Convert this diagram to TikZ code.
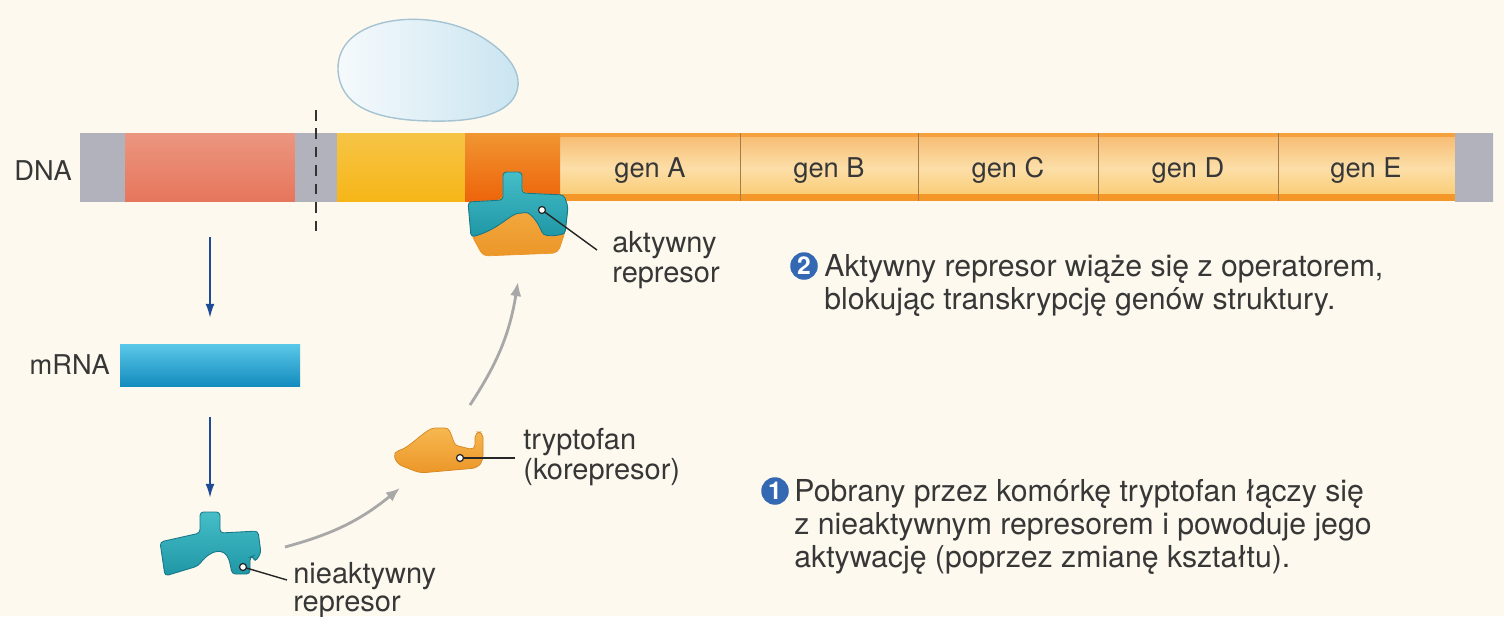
\documentclass[tikz,border=0pt]{standalone}
\usepackage{fontspec}
\setmainfont{TeX Gyre Heros}
\usetikzlibrary{arrows.meta}

\definecolor{paper}{RGB}{253,249,238}
\definecolor{ink}{RGB}{55,55,55}
\definecolor{capA}{RGB}{178,178,188}
\definecolor{capB}{RGB}{218,218,224}
\definecolor{redA}{RGB}{236,150,128}
\definecolor{redB}{RGB}{242,176,154}
\definecolor{redC}{RGB}{230,118,92}
\definecolor{yelA}{RGB}{246,196,70}
\definecolor{yelB}{RGB}{252,218,110}
\definecolor{yelC}{RGB}{246,182,24}
\definecolor{opA}{RGB}{240,150,50}
\definecolor{opB}{RGB}{242,140,30}
\definecolor{opC}{RGB}{238,100,10}
\definecolor{genA}{RGB}{246,186,110}
\definecolor{genB}{RGB}{252,222,168}
\definecolor{genC}{RGB}{250,206,120}
\definecolor{genline}{RGB}{244,150,40}
\definecolor{rnaA}{RGB}{90,200,232}
\definecolor{rnaB}{RGB}{30,168,210}
\definecolor{rnaC}{RGB}{20,140,190}
\definecolor{tealA}{RGB}{70,190,200}
\definecolor{tealB}{RGB}{30,150,165}
\definecolor{tealE}{RGB}{25,120,135}
\definecolor{trpA}{RGB}{246,184,80}
\definecolor{trpB}{RGB}{236,150,40}
\definecolor{eggA}{RGB}{246,250,252}
\definecolor{eggB}{RGB}{200,228,240}
\definecolor{eggE}{RGB}{165,195,210}
\definecolor{arrblue}{RGB}{30,75,150}
\definecolor{arrgray}{RGB}{168,168,168}
\definecolor{badgeblue}{RGB}{52,104,178}

\tikzset{
  lbl/.style={font=\fontsize{15.5}{18.5}\selectfont, text=ink, inner sep=0pt, align=left},
  sidelbl/.style={lbl, font=\fontsize{16.5}{17}\selectfont},
  longlbl/.style={lbl, font=\fontsize{17.2}{18.8}\selectfont},
  badge/.style={circle, fill=badgeblue, text=white, inner sep=0pt, minimum size=0.55cm,
    font=\bfseries\fontsize{14}{14}\selectfont},
  bluearr/.style={draw=arrblue, line width=1.1pt, -{Latex[length=8pt,width=5pt]}},
  grayarr/.style={draw=arrgray, line width=1.6pt, -{Latex[length=8pt,width=6.5pt]}},
  ptr/.style={draw=black!85, line width=0.8pt},
  ptrdot/.style={draw=black!85, fill=white, line width=0.7pt},
  seg/.style={draw=none},
}

\begin{document}
\begin{tikzpicture}[x=0.02cm,y=-0.02cm]
\fill[paper] (0,0) rectangle (1504,616);
\useasboundingbox (0,0) rectangle (1504,616);

% RNA polymerase
\shadedraw[left color=eggA, right color=eggB, draw=eggE, line width=0.8pt]
  (338,70) .. controls (336,16) and (428,6) .. (480,36)
  .. controls (514,56) and (526,80) .. (513,99)
  .. controls (500,117) and (466,122) .. (430,121)
  .. controls (370,120) and (340,104) .. (338,70);

% DNA strand
\shade[seg, top color=capA, middle color=capB, bottom color=capA] (80,133) rectangle (125,201);
\shade[seg, top color=redA, middle color=redB, bottom color=redC] (125,133) rectangle (295,201);
\shade[seg, top color=capA, middle color=capB, bottom color=capA] (295,133) rectangle (337,201);
\shade[seg, top color=yelA, middle color=yelB, bottom color=yelC] (337,133) rectangle (465,201);
\shade[seg, top color=genA, bottom color=genB] (560,133) rectangle (1455,168);
\shade[seg, top color=genB, bottom color=genC] (560,168) rectangle (1455,194);
\fill[genline] (560,194) rectangle (1455,201);
\fill[genline!70!genA] (560,133) rectangle (1455,137);
\foreach \x in {740,918,1098,1278}
  \draw[genline!60!black!80, line width=0.5pt] (\x,133) -- (\x,201);
\shade[seg, top color=opA, middle color=opB, bottom color=opC] (465,133) rectangle (560,201);
\shade[seg, top color=capA, middle color=capB, bottom color=capA] (1455,133) rectangle (1493,201);

\draw[black!80, line width=1.2pt, dash pattern=on 6pt off 4.5pt] (316,110) -- (316,232);

\node[lbl, anchor=base east] (dna) at (72,180) {DNA};
\foreach \g/\x in {A/650,B/829,C/1008,D/1188,E/1366}
  \node[lbl, anchor=base] (gen\g) at (\x,177) {gen \g};

% active repressor sitting on the operator
\shadedraw[top color=trpA, bottom color=trpB, draw=trpB, line width=0.4pt, rounded corners=3pt]
  (503,172) -- (522,172) -- (522,193) -- (564,195) -- (568,207) -- (565,232)
  -- (558,253) -- (483,256) -- (472,236) -- (468,202) -- (503,200) -- cycle;
\shadedraw[top color=tealA, bottom color=tealB, draw=tealE, line width=0.5pt, rounded corners=2pt]
  (503,172) -- (522,172) -- (522,193) -- (564,195) -- (568,207) -- (565,234)
  -- (552,236) -- (543,235) .. controls (538,222) and (530,212) .. (522,213)
  .. controls (510,214) and (498,230) .. (471,237) -- (468,202) -- (503,200) -- cycle;
\coordinate (actdot) at (542,210);
\coordinate (actend) at (597,250);
\draw[ptr] (actdot) -- (actend);
\draw[ptrdot] (actdot) circle (3.5);
\node[sidelbl, anchor=north west] (aktywny) at (612,231) {aktywny\\represor};

% mRNA
\shade[seg, top color=rnaA, middle color=rnaB, bottom color=rnaC] (120,344) rectangle (300,386);
\node[lbl, anchor=base east] (mrna) at (110,374) {mRNA};

% inactive repressor
\shadedraw[top color=tealA, bottom color=tealB, draw=tealE, line width=0.5pt, rounded corners=2pt]
  (200,512) -- (220,512) -- (220,533) -- (258,531) -- (261,553) -- (255,562)
  -- (253,556) -- (250,557) -- (250,574) -- (232,574) -- (230,563)
  .. controls (225,548) and (212,548) .. (198,566) -- (165,576) -- (160,542)
  -- (200,533) -- cycle;
\coordinate (inadot) at (243,567);
\coordinate (inaend) at (287,580);
\draw[ptr] (inadot) -- (inaend);
\draw[ptrdot] (inadot) circle (3.5);
\node[sidelbl, anchor=north west, font=\fontsize{16.5}{16}\selectfont] (nieaktywny) at (293,562) {nieaktywny\\represor};

% tryptophan
\shadedraw[top color=trpA, bottom color=trpB, draw=trpB!90!black, line width=0.4pt, rounded corners=3pt]
  (393,452) .. controls (410,448) and (426,428) .. (440,428)
  .. controls (452,428) and (452,444) .. (462,447) -- (475,450) -- (475,432)
  -- (483,432) -- (483,461) -- (477,468) -- (420,473) -- (397,464) -- cycle;
\coordinate (trpdot) at (460,458);
\coordinate (trpend) at (515,458);
\draw[ptr] (trpdot) -- (trpend);
\draw[ptrdot] (trpdot) circle (3.5);
\node[sidelbl, anchor=north west] (tryptofan) at (523,428) {tryptofan\\(korepresor)};

% transcription / translation arrows
\coordinate (dnaout) at (210,237);
\coordinate (rnain) at (210,318);
\coordinate (rnaout) at (210,417);
\coordinate (repin) at (210,498);
\draw[bluearr] (dnaout) -- (rnain);
\draw[bluearr] (rnaout) -- (repin);

% binding steps
\coordinate (inaout) at (285,547);
\coordinate (trpin) at (400,488);
\coordinate (trpout) at (470,405);
\coordinate (actin) at (518,282);
\draw[grayarr] (inaout) to[bend right=12] (trpin);
\draw[grayarr] (trpout) to[bend right=12] (actin);

% captions
\node[badge] (stepii) at (804,266) {2};
\node[longlbl, anchor=north west] (captii) at (824,254)
  {Aktywny represor wiąże się z operatorem,\\blokując transkrypcję genów struktury.};
\node[badge] (stepi) at (775,491) {1};
\node[longlbl, anchor=north west] (capti) at (794,479)
  {Pobrany przez komórkę tryptofan łączy się\\z nieaktywnym represorem i powoduje jego\\aktywację (poprzez zmianę kształtu).};
\end{tikzpicture}
\end{document}
